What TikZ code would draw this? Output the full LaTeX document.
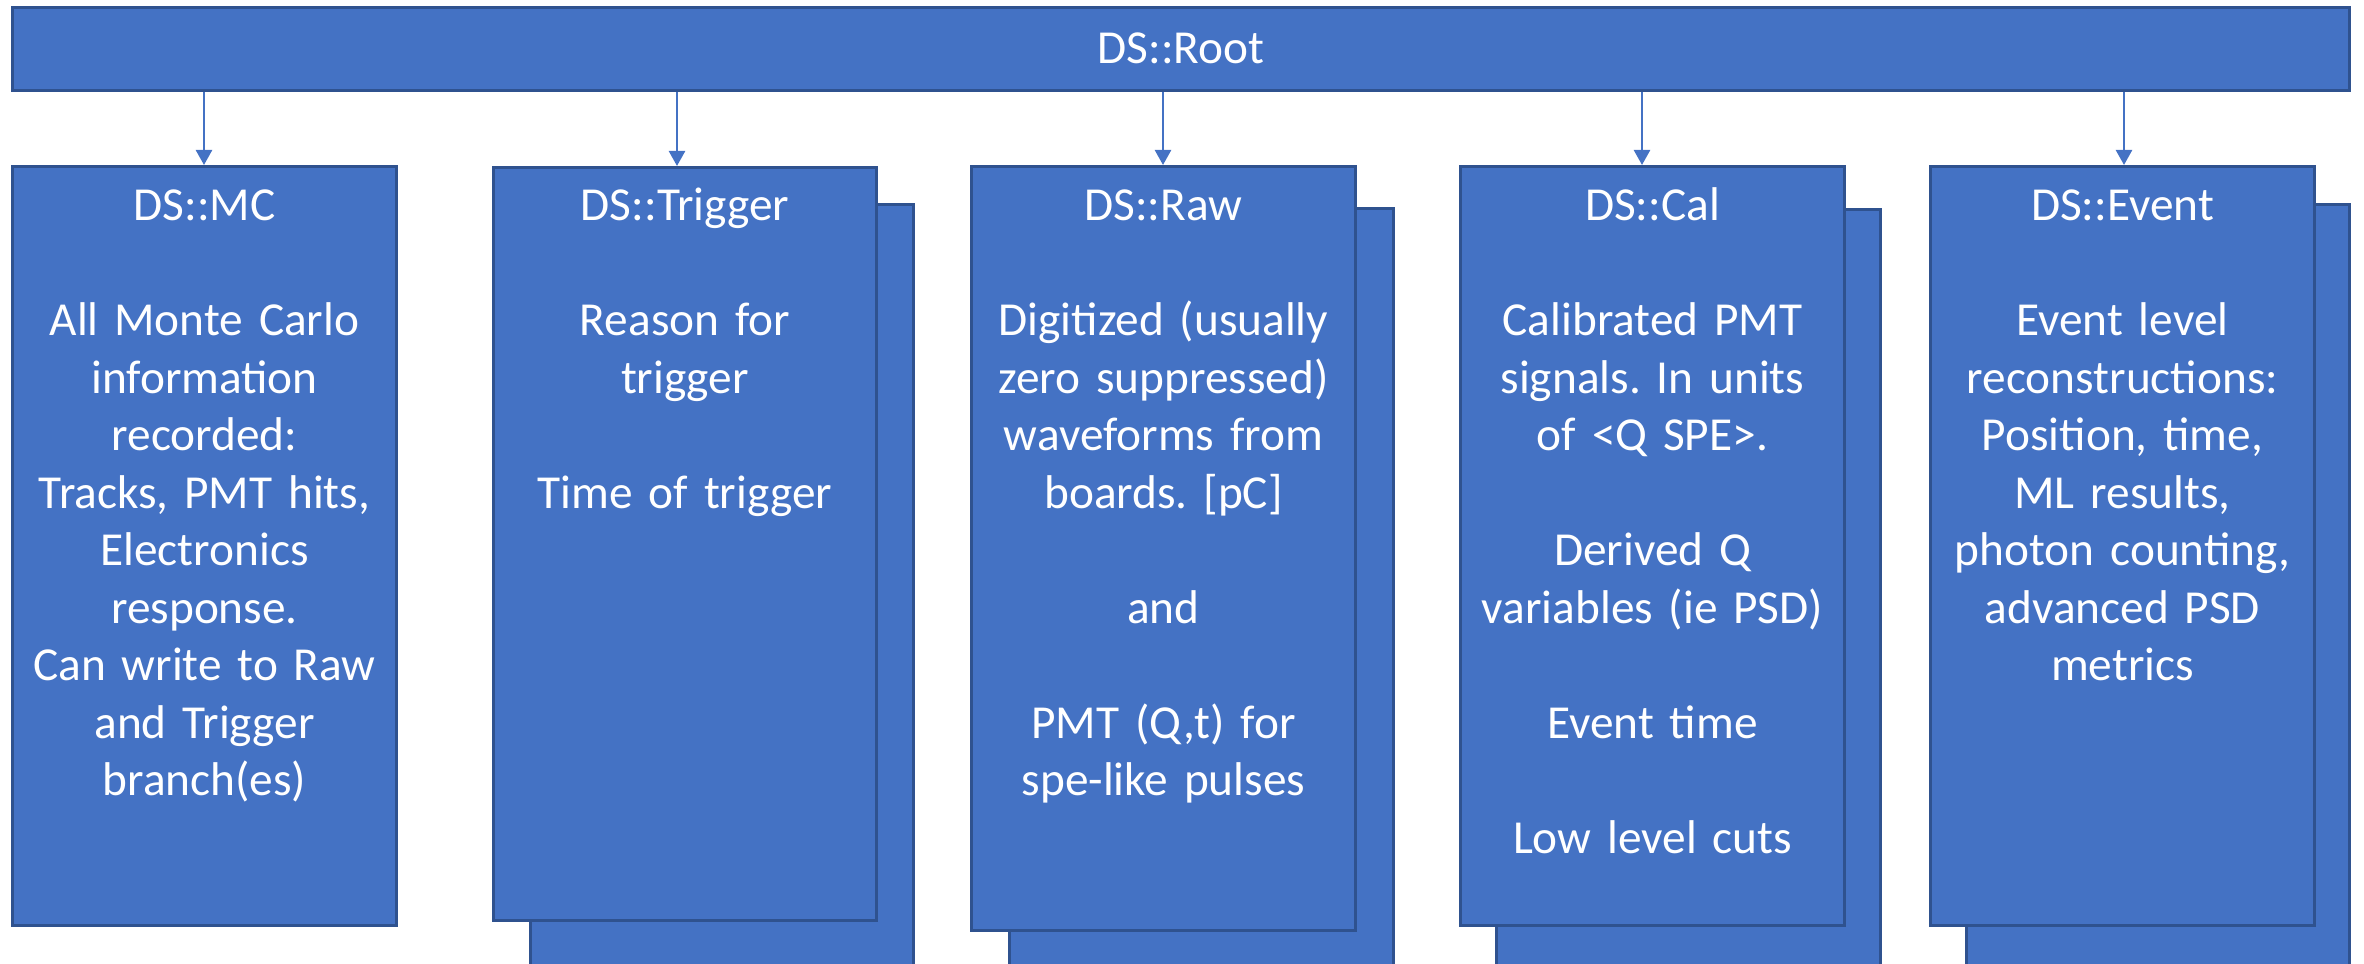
\documentclass[tikz,border=0pt]{standalone}
\usepackage{fontspec}
\setmainfont{Carlito}
\usetikzlibrary{arrows.meta,fit}
\definecolor{boxfill}{HTML}{4472C4}
\definecolor{boxline}{HTML}{2F528F}
\newcommand\blankln{\mbox{}\\}
\frenchspacing
\begin{document}
\begin{tikzpicture}[x=0.3pt,y=-0.3pt,
  blk/.style={draw=boxline, line width=0.9pt, fill=boxfill, inner sep=0pt},
  txt/.style={text=white, font=\fontsize{14.2pt}{17.25pt}\selectfont, align=center, text width=112pt, inner sep=0pt, anchor=base},
  conn/.style={draw=boxfill, line width=0.75pt, -{Triangle[width=4.8pt,length=4.5pt]}}]
\useasboundingbox (0,0) rectangle (2364,964);
% root
\node[blk, fit={(12.5,7.5) (2349.5,90.5)}] (root) {};
\node[txt, text width=200pt] (roott) at (1181,64) {DS::Root};
% shadows
\node[blk, fit={(530.5,204.5) (913.5,975)}] (trigs) {};
\node[blk, fit={(1009.5,208.5) (1393.5,975)}] (raws) {};
\node[blk, fit={(1496.5,209.5) (1880.5,975)}] (cals) {};
\node[blk, fit={(1966.5,204.5) (2349.5,975)}] (evts) {};
% front boxes
\node[blk, fit={(12.5,166.5) (396.5,925.5)}] (mc) {};
\node[blk, fit={(493.5,167.5) (876.5,920.5)}] (trig) {};
\node[blk, fit={(971.5,166.5) (1355.5,930.5)}] (raw) {};
\node[blk, fit={(1460.5,166.5) (1844.5,925.5)}] (cal) {};
\node[blk, fit={(1930.5,166.5) (2314.5,925.5)}] (evt) {};
% texts
\node[txt] (mct) at (204.5,221) {DS::MC\\\blankln All Monte Carlo\\information\\recorded:\\Tracks, PMT hits,\\Electronics\\response.\\Can write to Raw\\and Trigger\\branch(es)};
\node[txt] (trigt) at (685,221) {DS::Trigger\\\blankln Reason for\\trigger\\\blankln Time of trigger};
\node[txt] (rawt) at (1163.5,221) {DS::Raw\\\blankln Digitized (usually\\zero suppressed)\\waveforms from\\boards. [pC]\\\blankln and\\\blankln PMT (Q,t) for\\spe-like pulses};
\node[txt] (calt) at (1652.5,221) {DS::Cal\\\blankln Calibrated PMT\\signals. In units\\of <Q SPE>.\\\blankln Derived Q\\variables (ie PSD)\\\blankln Event time\\\blankln Low level cuts};
\node[txt] (evtt) at (2122.5,221) {DS::Event\\\blankln Event level\\reconstructions:\\Position, time,\\ML results,\\photon counting,\\advanced PSD\\metrics};
% arrow columns
\coordinate (c1) at (204,0);
\coordinate (c2) at (677,0);
\coordinate (c3) at (1163,0);
\coordinate (c4) at (1642,0);
\coordinate (c5) at (2124,0);
\draw[conn] (root.south -| c1) -- (mc.north -| c1);
\draw[conn] (root.south -| c2) -- (trig.north -| c2);
\draw[conn] (root.south -| c3) -- (raw.north -| c3);
\draw[conn] (root.south -| c4) -- (cal.north -| c4);
\draw[conn] (root.south -| c5) -- (evt.north -| c5);
\end{tikzpicture}
\end{document}
